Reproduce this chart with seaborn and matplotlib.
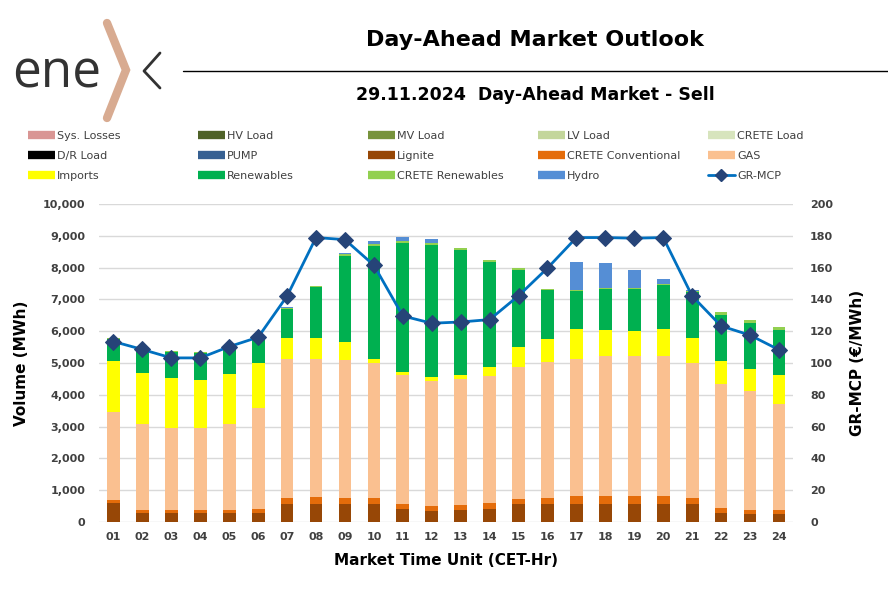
import numpy as np
import pandas as pd
import matplotlib
matplotlib.use("Agg")
import matplotlib.pyplot as plt
from matplotlib.lines import Line2D
from matplotlib.ticker import FuncFormatter, MultipleLocator
import seaborn as sns

sns.set_style("white")
plt.rcParams['font.family'] = ['DejaVu Sans']

# Data
hours = ['01', '02', '03', '04', '05', '06', '07', '08', '09', '10', '11', '12',
         '13', '14', '15', '16', '17', '18', '19', '20', '21', '22', '23', '24']
lignite = [590, 275, 275, 275, 275, 275, 580, 580, 580, 580, 410, 350,
           380, 410, 580, 580, 580, 580, 580, 580, 580, 285, 265, 265]
crete_conv = [110, 100, 100, 100, 100, 145, 185, 215, 185, 165, 165, 165,
              165, 185, 155, 185, 245, 245, 245, 225, 185, 155, 110, 110]
gas = [2760, 2700, 2590, 2590, 2705, 3175, 4355, 4325, 4335, 4250, 4045, 3915,
       3950, 4000, 4145, 4260, 4295, 4390, 4390, 4400, 4250, 3915, 3730, 3345]
imports = [1610, 1620, 1565, 1505, 1575, 1390, 670, 670, 565, 115, 105, 115,
           115, 290, 625, 730, 960, 825, 795, 865, 775, 720, 720, 910]
renewables = [670, 785, 825, 855, 845, 855, 920, 1610, 2705, 3585, 4055, 4180,
              3930, 3290, 2425, 1545, 1190, 1275, 1325, 1380, 1440, 1430, 1440, 1410]
crete_ren = [40, 20, 30, 20, 20, 20, 25, 30, 60, 40, 60, 50,
             70, 70, 50, 30, 30, 30, 20, 20, 30, 85, 95, 105]
hydro = [0, 0, 0, 0, 0, 0, 25, 0, 20, 115, 125, 125,
         0, 0, 0, 0, 880, 795, 585, 170, 40, 0, 0, 0]
gr_mcp = [113.5, 108.5, 103.2, 103.2, 110.3, 116.2, 142.1, 178.9, 177.6, 161.5, 129.6, 125.0,
          125.8, 127.3, 142.3, 159.7, 178.9, 178.9, 178.5, 178.9, 142.1, 123.3, 117.5, 108.3]

# legend entries (loads are zero in the sell side)
legend_names = ['Sys. Losses', 'HV Load', 'MV Load', 'LV Load', 'CRETE Load',
                'D/R Load', 'PUMP', 'Lignite', 'CRETE Conventional', 'GAS',
                'Imports', 'Renewables', 'CRETE Renewables', 'Hydro']
legend_colors = ['#D99694', '#4F6228', '#77933C', '#C3D69B', '#D7E4BD',
                 '#000000', '#376092', '#974706', '#E46C0A', '#FAC090',
                 '#FFFF00', '#00B050', '#92D050', '#558ED5']

stack = [('Lignite', lignite), ('CRETE Conventional', crete_conv), ('GAS', gas),
         ('Imports', imports), ('Renewables', renewables),
         ('CRETE Renewables', crete_ren), ('Hydro', hydro)]
colors = dict(zip(legend_names, legend_colors))

df = pd.DataFrame({name: vals for name, vals in stack}, index=hours)
cum = df.cumsum(axis=1)
cum['hour'] = hours

text_col = '#404040'

fig = plt.figure(figsize=(8.88, 5.91), dpi=100)
ax = fig.add_axes([0.1115, 0.1168, 0.782, 0.538])

# draw cumulative totals from the top layer down so each layer overlays
for name, _ in reversed(stack):
    sns.barplot(data=cum, x='hour', y=name, color=colors[name], width=0.44,
                saturation=1, linewidth=0, ax=ax)

ax.set_xlim(-0.5, len(hours) - 0.5)
ax.set_ylim(0, 10000)
ax.yaxis.set_major_locator(MultipleLocator(1000))
ax.yaxis.set_major_formatter(FuncFormatter(lambda v, p: f'{int(v):,}'))
ax.grid(axis='y', color='#D9D9D9', linewidth=1)
ax.set_axisbelow(True)
for s in ax.spines.values():
    s.set_visible(False)
ax.tick_params(axis='both', length=0, labelsize=8, labelcolor=text_col)
ax.tick_params(axis='y', pad=10)
ax.tick_params(axis='x', pad=7)
for lab in ax.get_xticklabels() + ax.get_yticklabels():
    lab.set_fontweight('bold')
ax.set_xlabel('Market Time Unit (CET-Hr)', fontsize=11, fontweight='bold', color='black', labelpad=8)
ax.set_ylabel('Volume (MWh)', fontsize=11, fontweight='bold', color='black', labelpad=10)

ax2 = ax.twinx()
sns.lineplot(x=np.arange(len(hours)), y=gr_mcp, ax=ax2, color='#0070C0', linewidth=2,
             marker='D', markersize=8, markerfacecolor='#264478', markeredgecolor='#264478')
ax2.set_ylim(0, 200)
ax2.yaxis.set_major_locator(MultipleLocator(20))
ax2.grid(False)
for s in ax2.spines.values():
    s.set_visible(False)
ax2.tick_params(axis='y', length=0, labelsize=8, labelcolor=text_col, pad=12)
for lab in ax2.get_yticklabels():
    lab.set_fontweight('bold')
ax2.set_ylabel('GR-MCP (€/MWh)', fontsize=11, fontweight='bold', color='black', labelpad=12)

# legend: one small legend per column so the columns sit on an even grid
handles = [Line2D([], [], color=c, linewidth=6, solid_capstyle='butt') for c in legend_colors]
handles.append(Line2D([], [], color='#0070C0', linewidth=2, marker='D', markersize=6,
                      markerfacecolor='#264478', markeredgecolor='#264478'))
labels = legend_names + ['GR-MCP']
ncol, nrow = 5, 3
col_x = [28, 198, 368, 538, 708]
for c in range(ncol):
    idx = [r * ncol + c for r in range(nrow)]
    fig.legend([handles[i] for i in idx], [labels[i] for i in idx], loc='upper left',
               bbox_to_anchor=(col_x[c] / 888, 1 - 131 / 591), frameon=False, fontsize=8,
               labelcolor=text_col, handlelength=2.4, handletextpad=0.2, labelspacing=0.9,
               borderaxespad=0, borderpad=0)

# titles and header line
fig.text(535 / 888, 1 - 40 / 591, 'Day-Ahead Market Outlook', ha='center', va='center',
         fontsize=16, fontweight='bold', color='black')
fig.add_artist(Line2D([183 / 888, 1.0], [1 - 71 / 591, 1 - 71 / 591], color='black', linewidth=1))
fig.text(535 / 888, 1 - 95 / 591, '29.11.2024  Day-Ahead Market - Sell', ha='center', va='center',
         fontsize=12.5, fontweight='bold', color='black')

# logo
fig.text(12 / 888, 1 - 88 / 591, 'ene', fontsize=37, color='#333333', va='baseline', ha='left',
         family=['Open Sans', 'DejaVu Sans'])
fig.add_artist(Line2D([107 / 888, 126 / 888, 107 / 888], [1 - 23 / 591, 1 - 70 / 591, 1 - 118 / 591],
                      color='#D8AB91', linewidth=6, solid_joinstyle='miter'))
fig.add_artist(Line2D([160 / 888, 144 / 888, 160 / 888], [1 - 53 / 591, 1 - 71 / 591, 1 - 88 / 591],
                      color='#333333', linewidth=2))

fig.savefig('out.png', dpi=100)
